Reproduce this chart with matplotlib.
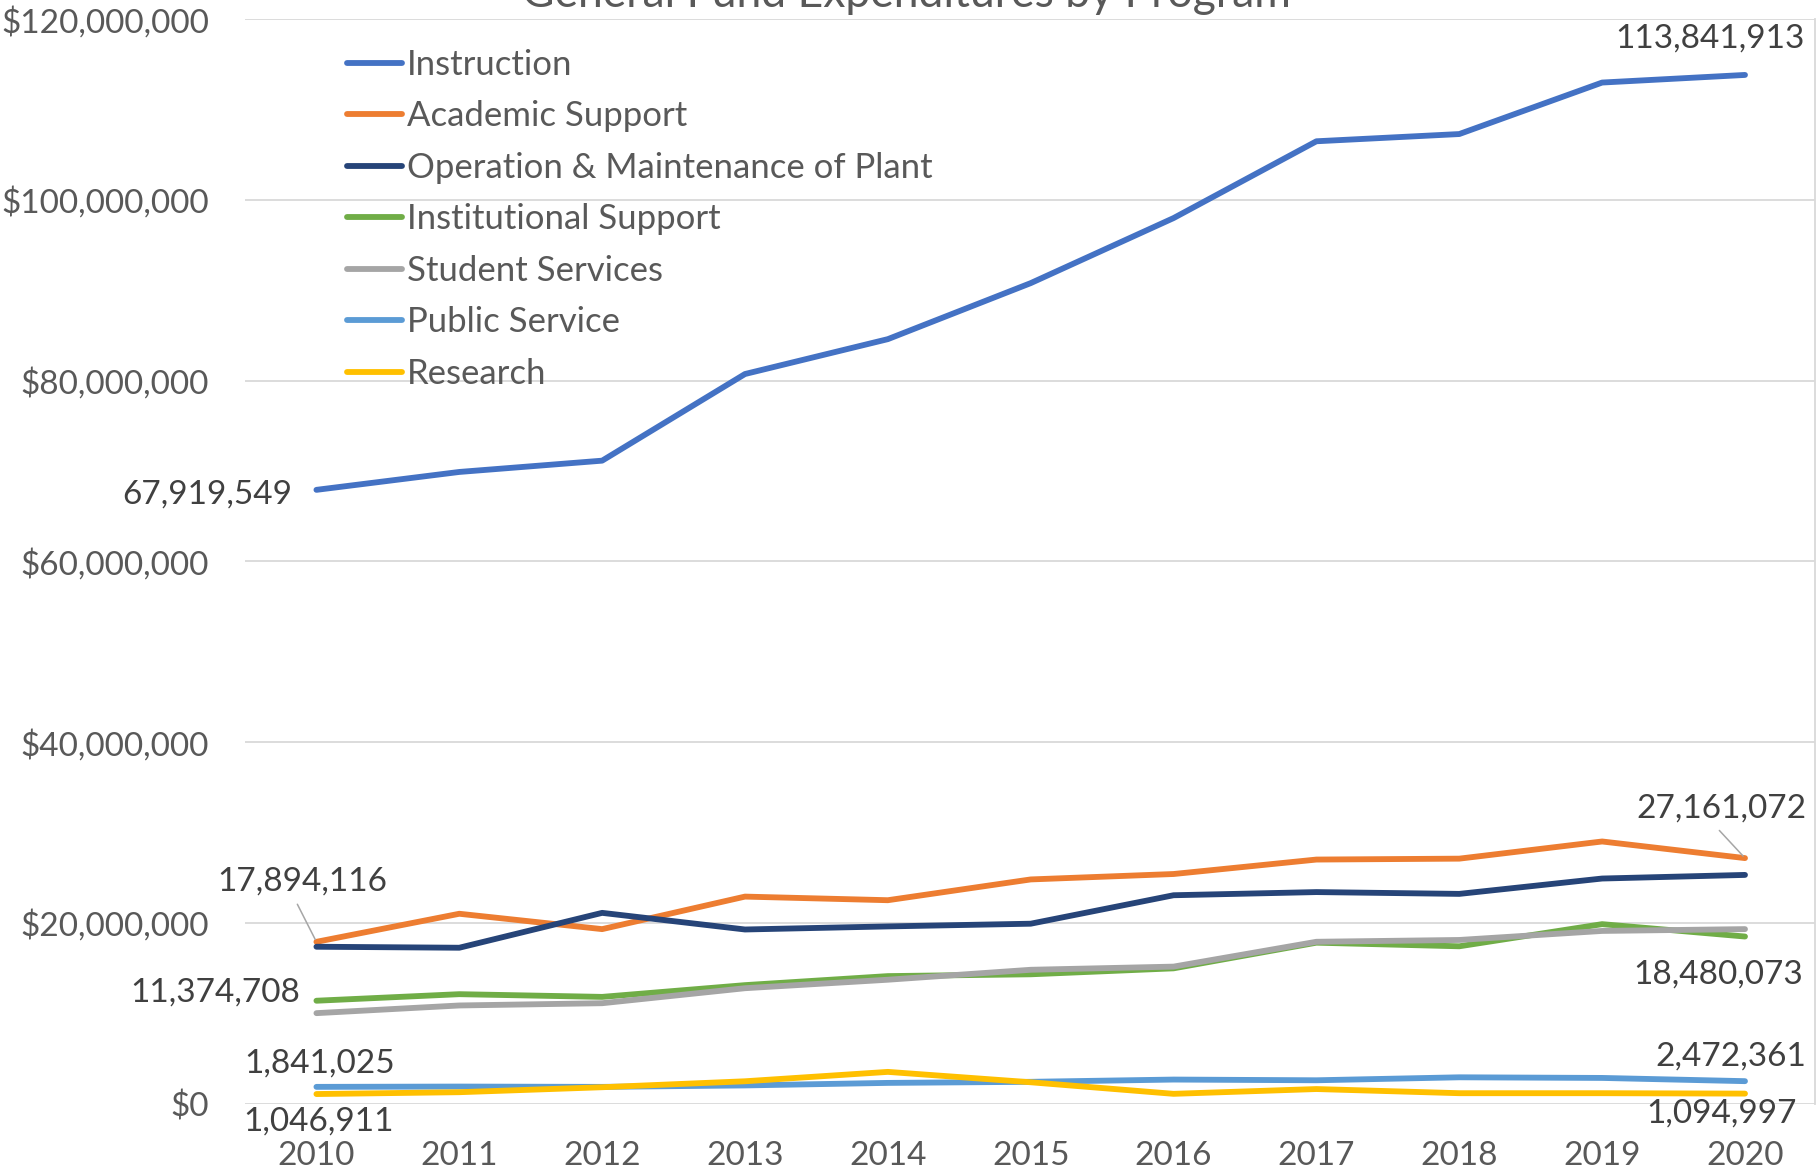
import matplotlib
matplotlib.use("Agg")
import matplotlib.pyplot as plt
from matplotlib.ticker import FuncFormatter, MultipleLocator

# ---------------- data ----------------
years = [2010, 2011, 2012, 2013, 2014, 2015, 2016, 2017, 2018, 2019, 2020]

instruction = [67919549, 69900000, 71150000, 80740000, 84600000, 90800000,
               98000000, 106500000, 107300000, 113000000, 113841913]
academic_support = [17894116, 21000000, 19300000, 22900000, 22500000, 24800000,
                    25400000, 27000000, 27100000, 29000000, 27161072]
operation_maintenance = [17350000, 17240000, 21100000, 19260000, 19600000, 19900000,
                         23050000, 23400000, 23200000, 24900000, 25300000]
institutional_support = [11374708, 12100000, 11800000, 13100000, 14100000, 14300000,
                         14960000, 17800000, 17400000, 19850000, 18480073]
student_services = [10000000, 10850000, 11100000, 12760000, 13700000, 14800000,
                    15150000, 17900000, 18100000, 19100000, 19300000]
public_service = [1841025, 1875000, 1840000, 2000000, 2280000, 2400000,
                  2650000, 2570000, 2900000, 2830000, 2472361]
research = [1046911, 1250000, 1800000, 2460000, 3500000, 2350000,
            1070000, 1600000, 1140000, 1140000, 1094997]

series_names = ["Instruction", "Academic Support", "Operation & Maintenance of Plant",
                "Institutional Support", "Student Services", "Public Service", "Research"]
series_values = [instruction, academic_support, operation_maintenance,
                 institutional_support, student_services, public_service, research]
series_colors = ["#4472C4", "#ED7D31", "#264478", "#70AD47", "#A5A5A5", "#5B9BD5", "#FFC000"]

title_text = "General Fund Expenditures by Program"

# ---------------- figure ----------------
FONT = ["Lato", "DejaVu Sans"]
plt.rcParams["font.family"] = FONT

W, H = 1818, 1175
fig = plt.figure(figsize=(W / 100, H / 100), dpi=100)
left_px, right_px, top_px, bottom_px = 245, 1815, 19.3, 1103.5
ax = fig.add_axes([left_px / W, 1 - bottom_px / H,
                   (right_px - left_px) / W, (bottom_px - top_px) / H])

axis_color = "#595959"
label_color = "#404040"
grid_color = "#D9D9D9"
LW = 4.2

for name, vals, col in zip(series_names, series_values, series_colors):
    ax.plot(years, vals, color=col, lw=LW, label=name,
            solid_capstyle="round", solid_joinstyle="round")

ax.set_xlim(years[0] - 0.5, years[-1] + 0.49)
ax.set_ylim(0, 120_000_000)
ax.yaxis.set_major_locator(MultipleLocator(20_000_000))
ax.yaxis.set_major_formatter(FuncFormatter(lambda v, p: f"${v:,.0f}"))
ax.set_xticks(years)
ax.set_xticklabels([str(y) for y in years])

ax.grid(axis="y", color=grid_color, lw=1.3)
ax.set_axisbelow(True)
for s in ["top", "left", "bottom"]:
    ax.spines[s].set_visible(False)
ax.spines["right"].set_color(grid_color)
ax.spines["right"].set_linewidth(1.3)
ax.tick_params(axis="both", length=0, labelsize=24, labelcolor=axis_color)
ax.tick_params(axis="y", pad=26)
ax.tick_params(axis="x", pad=27)

# title (mostly cut off at the top in the reference)
fig.text(906.7 / W, 1 - 7.3 / H, title_text, ha="center", va="baseline",
         fontsize=32, color=axis_color)

# legend
leg = ax.legend(loc="upper left", bbox_to_anchor=(347 / W, 1 - 49 / H),
                bbox_transform=fig.transFigure, frameon=False, fontsize=25,
                handlelength=1.58, handletextpad=0.15, labelspacing=0.56,
                borderpad=0, borderaxespad=0)
for t in leg.get_texts():
    t.set_color(axis_color)
for h in leg.get_lines():
    h.set_linewidth(LW)
    h.set_solid_capstyle("round")

# data labels (first and last points)
def lab(series, idx, dx, dy, ha="center", leader=False):
    v = series[idx]
    kw = dict(textcoords="offset pixels", ha=ha, va="center",
              fontsize=24, color=label_color)
    if leader:
        kw["arrowprops"] = dict(arrowstyle="-", color="#A6A6A6", lw=1.1,
                                shrinkA=4, shrinkB=2, relpos=(0.45, 0.0))
    ax.annotate(f"{v:,.0f}", xy=(years[idx], v), xytext=(dx, dy - 4), **kw)

lab(instruction, 0, -24, -1, ha="right")
lab(instruction, -1, 60, 40.7, ha="right")
lab(academic_support, 0, -14.5, 64.3, leader=True)
lab(academic_support, -1, -23.5, 53.5, leader=True)
lab(institutional_support, 0, -16.5, 11.7, ha="right")
lab(institutional_support, -1, -27, -33.5)
lab(public_service, 0, 3.5, 27.2)
lab(public_service, -1, -14.5, 28.5)
lab(research, 0, 2, -23.7)
lab(research, -1, -23, -16)

fig.savefig("out.png", dpi=100)
